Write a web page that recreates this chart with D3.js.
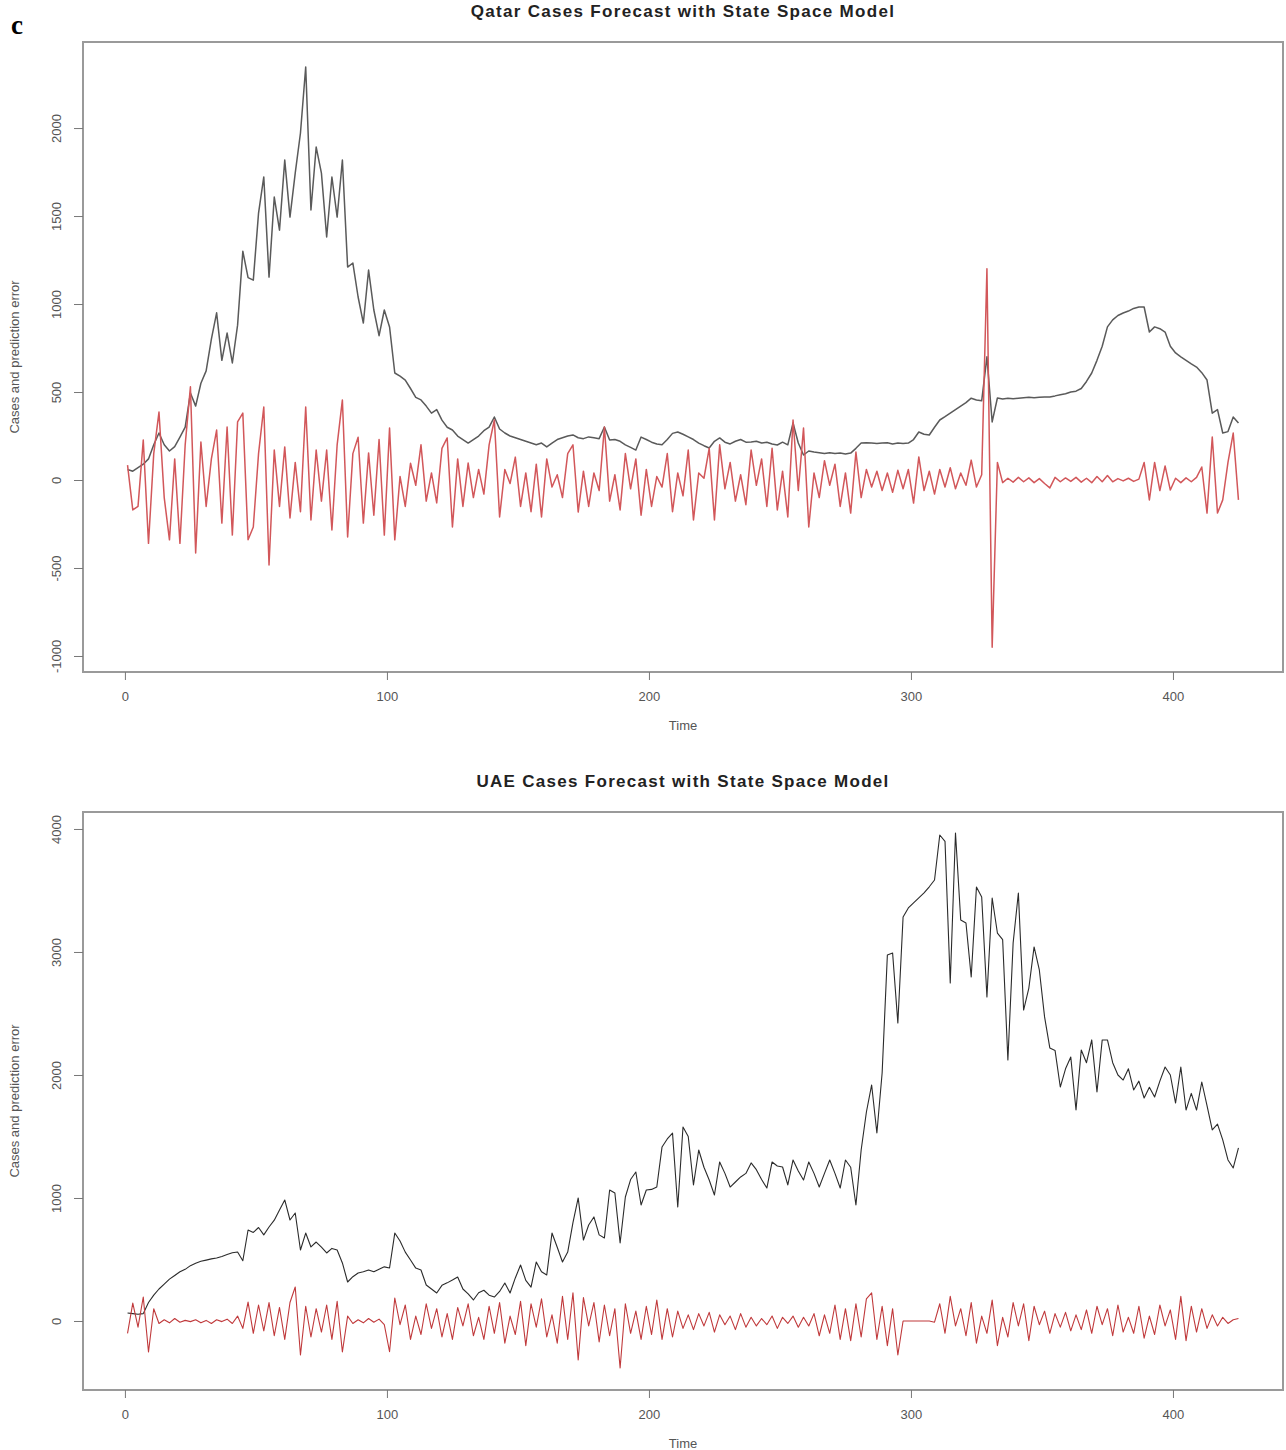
<!DOCTYPE html>
<html>
<head>
<meta charset="utf-8">
<script src="https://cdn.jsdelivr.net/npm/d3@7"></script>
<style>
  body { margin: 0; background: #fff; }
  text { font-family: "Liberation Sans", Arial, sans-serif; }
</style>
</head>
<body>
<svg id="chart" width="1286" height="1450"></svg>
<script>
// time index, one value every 2 days (1..425)
let days = d3.range(1, 426, 2)

// BEGIN: DATA
let qatarCases = [
  60, 50, 70, 90, 120, 200, 267, 200, 165, 190,
  244, 300, 494, 420, 550, 620, 800, 950, 680, 835,
  665, 880, 1300, 1150, 1136, 1517, 1722, 1153, 1608, 1420,
  1818, 1494, 1744, 1972, 2347, 1534, 1892, 1744, 1381, 1722,
  1494, 1818, 1210, 1233, 1040, 892, 1193, 966, 820, 966,
  870, 608, 590, 568, 520, 470, 455, 420, 380, 400,
  340, 300, 284, 250, 230, 210, 230, 250, 280, 300,
  358, 290, 267, 250, 240, 230, 220, 210, 200, 210,
  188, 210, 230, 240, 250, 256, 240, 235, 245, 240,
  235, 301, 227, 230, 220, 200, 185, 170, 244, 230,
  215, 205, 200, 230, 265, 273, 260, 245, 230, 210,
  195, 182, 220, 239, 215, 205, 220, 230, 215, 216,
  220, 210, 215, 205, 199, 215, 200, 324, 210, 142,
  165, 159, 155, 150, 155, 150, 153, 148, 153, 180,
  210, 212, 210, 208, 210, 212, 205, 210, 208, 210,
  230, 273, 260, 256, 300, 341, 360, 380, 400, 420,
  440, 465, 455, 450, 700, 330, 466, 460, 465, 462,
  465, 468, 470, 468, 470, 472, 472, 478, 485, 490,
  500, 505, 520, 560, 608, 680, 760, 870, 910, 935,
  949, 960, 975, 983, 983, 841, 870, 860, 841, 760,
  722, 700, 680, 660, 642, 610, 568, 380, 400, 267,
  275, 358, 324
]
let qatarError = [
  85, -170, -150, 227, -360, 150, 386, -100, -340, 120,
  -360, 200, 530, -415, 216, -150, 120, 284, -245, 301,
  -313, 330, 380, -340, -267, 150, 415, -483, 170, -150,
  188, -216, 100, -180, 415, -227, 170, -120, 170, -284,
  200, 455, -324, 150, 243, -245, 154, -200, 230, -313,
  295, -340, 20, -150, 95, -30, 200, -120, 40, -130,
  180, 239, -267, 120, -150, 96, -100, 60, -80, 200,
  341, -210, 60, -20, 130, -150, 40, -180, 90, -210,
  120, -40, 30, -100, 150, 200, -182, 50, -150, 40,
  -60, 301, -120, 30, -170, 150, -50, 120, -200, 60,
  -150, 20, -40, 150, -180, 40, -90, 170, -227, 40,
  10, 180, -227, 200, -50, 100, -120, 30, -140, 170,
  -30, 120, -150, 180, -170, 50, -210, 341, -60, 295,
  -267, 40, -100, 110, -30, 90, -150, 40, -188, 159,
  -100, 60, -40, 50, -60, 40, -70, 55, -50, 60,
  -131, 131, -60, 50, -80, 60, -40, 70, -50, 40,
  -30, 113, -40, 30, 1200, -950, 100, -15, 10, -12,
  15, -10, 12, -15, 8, -20, -45, 15, -10, 12,
  -8, 15, -12, 10, -15, 20, -10, 25, -10, 8,
  -5, 10, -8, 5, 100, -113, 100, -60, 80, -57,
  10, -15, 12, -10, 15, 74, -188, 244, -188, -113,
  100, 267, -113
]
let uaeCases = [
  65, 60, 55, 60, 150, 210, 260, 300, 340, 370,
  400, 420, 450, 470, 485, 495, 505, 512, 525, 540,
  555, 561, 490, 740, 720, 760, 700, 764, 820, 902,
  984, 821, 878, 577, 715, 602, 642, 600, 553, 590,
  577, 472, 317, 360, 390, 400, 415, 400, 420, 440,
  431, 715, 650, 560, 496, 430, 415, 293, 260, 228,
  290, 310, 333, 358, 260, 220, 171, 230, 250, 210,
  195, 240, 309, 228, 350, 455, 330, 276, 480, 400,
  374, 715, 600, 480, 560, 800, 1000, 658, 780, 846,
  700, 675, 1065, 1041, 634, 1008, 1150, 1211, 943, 1065,
  1070, 1089, 1415, 1480, 1528, 927, 1577, 1500, 1106, 1390,
  1250, 1146, 1024, 1293, 1200, 1089, 1130, 1171, 1200, 1285,
  1230, 1150, 1081, 1293, 1260, 1252, 1106, 1309, 1220, 1146,
  1293, 1200, 1089, 1200, 1309, 1200, 1081, 1309, 1250, 943,
  1390, 1699, 1919, 1528, 2016, 2976, 2992, 2423, 3285, 3358,
  3400, 3440, 3480, 3530, 3585, 3951, 3900, 2748, 3967, 3260,
  3236, 2797, 3528, 3447, 2634, 3439, 3154, 3100, 2122, 3073,
  3480, 2528, 2707, 3041, 2854, 2472, 2220, 2200, 1902, 2050,
  2146, 1715, 2203, 2100, 2285, 1862, 2285, 2285, 2100, 2000,
  1959, 2050, 1878, 1950, 1813, 1900, 1821, 1950, 2065, 2000,
  1772, 2065, 1715, 1850, 1715, 1943, 1750, 1553, 1600, 1472,
  1309, 1244, 1407
]
let uaeError = [
  -100, 146, -50, 195, -252, 100, -20, 10, -15, 20,
  -10, 5, -5, 10, -15, 5, -20, 10, -5, 15,
  -20, 40, -60, 154, -100, 130, -80, 150, -120, 110,
  -150, 150, 276, -276, 120, -130, 100, -90, 130, -150,
  160, -252, 40, -20, 10, -15, 20, -10, 15, -30,
  -250, 187, -30, 130, -150, 40, -110, 140, -60, 100,
  -130, 60, -150, 110, -40, 140, -120, 30, -150, 120,
  -100, 150, -180, 40, -110, 160, -200, 140, -50, 180,
  -130, 50, -180, 200, -150, 230, -317, 190, -40, 150,
  -170, 130, -120, 100, -382, 140, -100, 80, -150, 120,
  -110, 171, -150, 100, -130, 80, -60, 50, -70, 60,
  -40, 70, -90, 50, -30, 40, -70, 60, -50, 30,
  -40, 20, -30, 40, -60, 30, -20, 40, -50, 30,
  -40, 60, -120, 50, -100, 130, -150, 100, -160, 140,
  -130, 180, 228, -150, 120, -200, 100, -276, 0, 0,
  0, 0, 0, 0, -10, 140, -100, 200, -40, 100,
  -120, 150, -180, 40, -100, 170, -200, 30, -130, 150,
  -40, 140, -160, 120, -30, 80, -100, 60, -50, 70,
  -80, 50, -70, 90, -100, 120, -30, 100, -120, 130,
  -90, 30, -100, 120, -140, 40, -110, 130, -40, 90,
  -150, 200, -160, 120, -90, 100, -60, 50, -40, 30,
  -20, 10, 20
]

let xTicks = [0, 100, 200, 300, 400]
let qatarTicks = [-1000, -500, 0, 500, 1000, 1500, 2000]
let uaeTicks = [0, 1000, 2000, 3000, 4000]
// END: DATA

const svg = d3.select("#chart")
let plotLeft = 83, plotRight = 1283
let tickFont = "'Liberation Sans Narrow', 'Liberation Sans', sans-serif"

svg.append("text")
  .attr("x", 11).attr("y", 34)
  .style("font-family", "'Liberation Serif', 'DejaVu Serif', serif")
  .style("font-weight", "bold").style("font-size", "27px")
  .text("c")

const drawPanel = (p) => {
  let x = d3.scaleLinear().domain([-16, 442]).range([plotLeft, plotRight])
  let y = d3.scaleLinear().domain(p.yDomain).range([p.bottom, p.top])
  let g = svg.append("g")

  // black = cases, red = prediction error
  let line = d3.line().x(d => x(d[0])).y(d => y(d[1]))
  g.append("path")
    .datum(days.map((t, i) => [t, p.cases[i]]))
    .attr("d", line).attr("fill", "none")
    .attr("stroke", p.caseColor).attr("stroke-width", p.lw)
    .attr("stroke-linejoin", "round")
  g.append("path")
    .datum(days.map((t, i) => [t, p.error[i]]))
    .attr("d", line).attr("fill", "none")
    .attr("stroke", p.errColor).attr("stroke-width", p.lw)
    .attr("stroke-linejoin", "round")

  // box
  g.append("rect")
    .attr("x", plotLeft).attr("y", p.top)
    .attr("width", plotRight - plotLeft).attr("height", p.bottom - p.top)
    .attr("fill", "none").attr("stroke", "#9a9a9a").attr("stroke-width", 2)

  // axes
  let xa = g.append("g").attr("transform", `translate(0,${p.bottom})`)
    .call(d3.axisBottom(x).tickValues(xTicks).tickSize(8).tickSizeOuter(0).tickPadding(12))
  let ya = g.append("g").attr("transform", `translate(${plotLeft},0)`)
    .call(d3.axisLeft(y).tickValues(p.yTicks).tickSize(9).tickSizeOuter(0).tickFormat(d => d))
  xa.select(".domain").remove()
  ya.select(".domain").remove()
  svg.selectAll(".tick line").attr("stroke", "#777")
  xa.selectAll("text").attr("fill", "#555").style("font-size", "13px")
    .style("font-family", tickFont)
  ya.selectAll("text").remove()
  ya.selectAll(".tick").append("text")
    .attr("transform", "translate(-27,0) rotate(-90)")
    .attr("text-anchor", "middle").attr("dy", "0.35em")
    .attr("fill", "#555").style("font-size", "13px")
    .style("font-family", tickFont)
    .text(d => d)

  // labels
  g.append("text")
    .attr("x", (plotLeft + plotRight) / 2).attr("y", p.top - 25)
    .attr("text-anchor", "middle").style("letter-spacing", "1.3px")
    .style("font-weight", "bold").style("font-size", "17px").attr("fill", "#222")
    .text(p.title)
  g.append("text")
    .attr("x", (plotLeft + plotRight) / 2).attr("y", p.bottom + 58)
    .attr("text-anchor", "middle").attr("fill", "#555").style("font-size", "13px")
    .style("font-family", tickFont)
    .text("Time")
  g.append("text")
    .attr("transform", `translate(19,${(p.top + p.bottom) / 2}) rotate(-90)`)
    .attr("text-anchor", "middle").attr("fill", "#555").style("font-size", "13px")
    .style("font-family", tickFont)
    .text("Cases and prediction error")
}

drawPanel({
  title: "Qatar Cases Forecast with State Space Model",
  top: 42, bottom: 672, yDomain: [-1091, 2489], yTicks: qatarTicks,
  cases: qatarCases, error: qatarError,
  caseColor: "#5a5a5a", errColor: "#d2575a", lw: 1.5
})
drawPanel({
  title: "UAE Cases Forecast with State Space Model",
  top: 812, bottom: 1390, yDomain: [-561, 4138], yTicks: uaeTicks,
  cases: uaeCases, error: uaeError,
  caseColor: "#2b2b2b", errColor: "#c0393b", lw: 1.1
})
</script>
</body>
</html>
